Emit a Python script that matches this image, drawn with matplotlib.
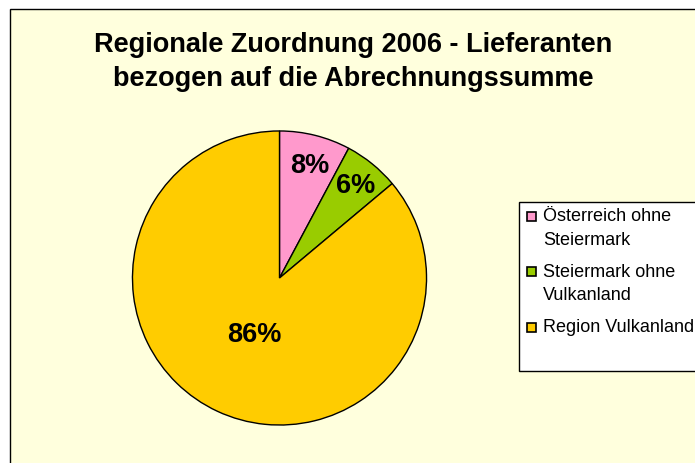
import matplotlib.pyplot as plt
from matplotlib.patches import Rectangle

plt.rcParams['font.family'] = ['Liberation Sans', 'DejaVu Sans']

# data
labels = ['Österreich ohne\nSteiermark', 'Steiermark ohne\nVulkanland', 'Region Vulkanland']
shares = [7.8, 6.1, 86.1]
colors = ['#FF99CC', '#99CC00', '#FFCC00']
title = 'Regionale Zuordnung 2006 - Lieferanten\nbezogen auf die Abrechnungssumme'

W, H = 695, 464
fig = plt.figure(figsize=(W / 100, H / 100), dpi=100)
fig.patch.set_facecolor('white')

# chart area background with border
fig.patches.append(Rectangle((10 / W, -0.05), 1.0, 1 - 10 / H + 0.05,
                             transform=fig.transFigure, facecolor='#FFFFDD',
                             edgecolor='black', linewidth=1.0, zorder=-10))

fig.text(353 / W, 1 - 62 / H, title, ha='center', va='center',
         fontsize=19.5, fontweight='bold', linespacing=1.38)

# pie
cx, cy, r = 279.5, 279, 148.5
ax = fig.add_axes([(cx - r) / W, (H - cy - r) / H, 2 * r / W, 2 * r / H])
ax.patch.set_alpha(0)
wedges, texts, autotexts = ax.pie(
    shares, colors=colors, startangle=90, counterclock=False,
    autopct=lambda p: f'{p:.0f}%', pctdistance=0.79,
    wedgeprops=dict(edgecolor='black', linewidth=1.0),
    textprops=dict(fontsize=19.5, fontweight='bold'))
autotexts[0].set_position((0.205, 0.77))
autotexts[1].set_position((0.52, 0.63))
autotexts[2].set_position((-0.17, -0.38))
ax.set_xlim(-1.01, 1.01)
ax.set_ylim(-1.01, 1.01)
ax.set_aspect('equal')
ax.axis('off')

# legend box (drawn by hand so markers sit on the first text line)
fig.patches.append(Rectangle((519 / W, 1 - 372 / H), 0.5, (372 - 203) / H,
                             transform=fig.transFigure, facecolor='white',
                             edgecolor='black', linewidth=1.0, zorder=1))
y = 217
line_h, gap = 23.5, 8.5
for lab, c in zip(labels, colors):
    fig.patches.append(Rectangle((527 / W, 1 - (y + 4.5) / H), 9 / W, 9 / H,
                                 transform=fig.transFigure, facecolor=c,
                                 edgecolor='black', linewidth=1.2, zorder=2))
    for k, part in enumerate(lab.split('\n')):
        fig.text(543 / W, 1 - (y + k * line_h) / H, part, ha='left',
                 va='center', fontsize=13, zorder=3)
    y += line_h * (lab.count('\n') + 1) + gap

fig.savefig('out.png', dpi=100)
